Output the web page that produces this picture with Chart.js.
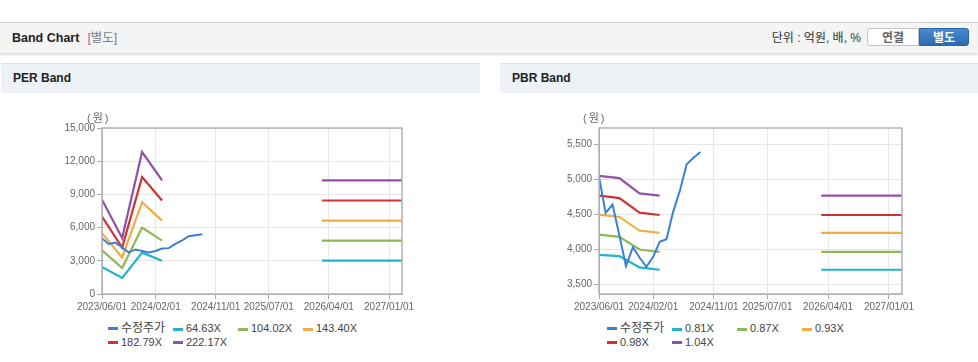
<!DOCTYPE html>
<html lang="ko">
<head>
<meta charset="utf-8">
<title>Band Chart</title>
<script src="https://cdn.jsdelivr.net/npm/chart.js@4.4.1/dist/chart.umd.min.js"></script>
<style>
    body { margin: 0; width: 978px; height: 362px; overflow: hidden; background: #fff;
           font-family: "Liberation Sans", Arial, "Noto Sans CJK KR", sans-serif; color: #222; position: relative; }
    .topbar { position: absolute; left: 0; top: 22px; width: 978px; height: 30px; background: #f4f4f4;
              border-top: 1px solid #cfcfcf; box-shadow: 0 2px 2px rgba(0,0,0,0.13); }
    .topbar .title { position: absolute; left: 12px; top: 0; line-height: 30px; font-size: 12.5px; font-weight: bold; }
    .topbar .title span { font-weight: normal; color: #7a7f88; margin-left: 8px; }
    .unit { position: absolute; right: 117px; top: 0; line-height: 30px; font-size: 12px; color: #333; }
    .btn { position: absolute; top: 5px; height: 18px; line-height: 18px; font-size: 12px; font-weight: bold; text-align: center; box-sizing: border-box; }
    .btn.off { left: 867px; width: 52px; background: #fff; color: #666; border: 1px solid #c4c4c4; border-radius: 3px 0 0 3px; }
    .btn.on { left: 919px; width: 50px; background: linear-gradient(#4b8bd1, #2b69ad); color: #fff; border: 1px solid #2d66a6; border-radius: 0 3px 3px 0; }
    .panel-head { position: absolute; top: 63px; height: 29px; background: #eef1f6; border-top: 1px solid #dcdfe5; }
    .panel-head b { position: absolute; left: 12px; line-height: 29px; font-size: 12px; }
    .box { position: absolute; top: 100px; height: 218px; }
    .unit-label { position: absolute; top: 109px; font-size: 11px; color: #666; letter-spacing: 2px; }
    .legend { position: absolute; top: 322px; width: 270px; font-size: 11px; color: #444; }
    .legend .item { display: inline-block; width: 65px; height: 13.5px; line-height: 13.5px; white-space: nowrap; vertical-align: top; }
    .legend .item i { display: inline-block; width: 10px; height: 3px; margin-right: 3px; vertical-align: middle; }
    .legend .item.kr { font-size: 12px; }
</style>
</head>
<body>
<div class="topbar">
    <div class="title">Band Chart<span>[별도]</span></div>
    <div class="unit">단위 : 억원, 배, %</div>
    <div class="btn off">연결</div>
    <div class="btn on">별도</div>
</div>

<div class="panel-head" style="left:1px;width:479px"><b>PER Band</b></div>
<div class="panel-head" style="left:500px;width:478px"><b>PBR Band</b></div>

<div class="box" style="left:0;width:480px"><canvas id="perChart"></canvas></div>
<div class="box" style="left:500px;width:478px"><canvas id="pbrChart"></canvas></div>
<div class="unit-label" style="left:87px">(원)</div>
<div class="unit-label" style="left:583px">(원)</div>
<div class="legend" id="perLegend" style="left:108px"></div>
<div class="legend" id="pbrLegend" style="left:607px"></div>

<script>
// 날짜 / 눈금
const xTickLabels = ['2023/06/01', '2024/02/01', '2024/11/01', '2025/07/01', '2026/04/01', '2027/01/01'];
const xStart = '2023/06/01';
const xEnd = '2027/03/01';

// 수정주가 (월별)
const priceDates = ['2023/06/01', '2023/07/01', '2023/08/01', '2023/09/01', '2023/10/01', '2023/11/01', '2023/11/15',
    '2023/12/01', '2024/01/01', '2024/02/01', '2024/03/01', '2024/04/01', '2024/05/01', '2024/06/01',
    '2024/07/01', '2024/08/01', '2024/09/01'];
const priceValues = [5040, 4520, 4640, 4200, 3757, 4025, 3962, 3880, 3748, 3891, 4106, 4144, 4535, 4846, 5218, 5310, 5394];

// 밴드 (분기별 + 미래 구간)
const bandDates = ['2023/06/01', '2023/09/01', '2023/12/01', '2024/03/01'];
const futureDates = ['2026/03/01', '2027/03/01'];

const perLabels = ['64.63X', '104.02X', '143.40X', '182.79X', '222.17X'];
const per1 = [2450, 1450, 3740, 3010];
const per2 = [3950, 2350, 6000, 4820];
const per3 = [5500, 3300, 8300, 6630];
const per4 = [7000, 4200, 10570, 8450];
const per5 = [8520, 5050, 12830, 10270];
const perFuture = [3010, 4820, 6630, 8450, 10270];
const perTicks = [0, 3000, 6000, 9000, 12000, 15000];

const pbrLabels = ['0.81X', '0.87X', '0.93X', '0.98X', '1.04X'];
const pbr1 = [3919, 3900, 3738, 3705];
const pbr2 = [4210, 4176, 3995, 3962];
const pbr3 = [4495, 4462, 4267, 4233];
const pbr4 = [4767, 4733, 4524, 4490];
const pbr5 = [5052, 5019, 4800, 4767];
const pbrFuture = [3705, 3962, 4233, 4490, 4767];
const pbrTicks = [3500, 4000, 4500, 5000, 5500];

const priceColor = '#3c7fd6';
const bandColors = ['#22b2c9', '#8fb755', '#f2ad42', '#cc3333', '#9152a5'];

document.addEventListener("DOMContentLoaded", function () {
    Chart.defaults.font.family = '"Liberation Sans", Arial, "Noto Sans CJK KR", sans-serif';
    Chart.defaults.color = '#666';

    const base = Date.UTC(2023, 5, 1);
    function toDay(s) {
        const p = s.split('/').map(Number);
        return (Date.UTC(p[0], p[1] - 1, p[2]) - base) / 86400000;
    }
    function dayLabel(v) {
        const d = new Date(base + v * 86400000);
        const mm = String(d.getUTCMonth() + 1).padStart(2, '0');
        const dd = String(d.getUTCDate()).padStart(2, '0');
        return d.getUTCFullYear() + '/' + mm + '/' + dd;
    }

    // 과거 분기 + 공백 + 미래 구간을 하나의 데이터셋으로
    function bandData(values, future) {
        const pts = bandDates.map((d, i) => ({ x: toDay(d), y: values[i] }));
        pts.push({ x: toDay('2025/01/01'), y: null });
        futureDates.forEach(d => pts.push({ x: toDay(d), y: future }));
        return pts;
    }

    // 플롯 영역 테두리
    const frame = {
        id: 'frame',
        afterDraw(chart) {
            const a = chart.chartArea, ctx = chart.ctx;
            ctx.save();
            ctx.strokeStyle = '#b3b3b3';
            ctx.lineWidth = 1.5;
            ctx.strokeRect(a.left, a.top, a.right - a.left, a.bottom - a.top);
            ctx.restore();
        }
    };

    function makeChart(id, legendId, bands, labels, future, yMin, yMax, yTicks, yWidth, padRight) {
        const datasets = [{
            label: '수정주가',
            data: priceDates.map((d, i) => ({ x: toDay(d), y: priceValues[i] })),
            borderColor: priceColor,
            borderWidth: 2
        }];
        bands.forEach((b, i) => {
            datasets.push({
                label: labels[i],
                data: bandData(b, future[i]),
                borderColor: bandColors[i],
                borderWidth: 2.2
            });
        });

        const chart = new Chart(document.getElementById(id), {
            type: 'line',
            data: { datasets: datasets },
            options: {
                responsive: true,
                maintainAspectRatio: false,
                animation: false,
                devicePixelRatio: 1,
                layout: { padding: { top: 28, right: padRight, left: 0, bottom: 0 } },
                elements: { point: { radius: 0 }, line: { tension: 0 } },
                plugins: { legend: { display: false }, tooltip: { enabled: false } },
                scales: {
                    x: {
                        type: 'linear',
                        min: toDay(xStart),
                        max: toDay(xEnd),
                        afterBuildTicks: s => { s.ticks = xTickLabels.map(t => ({ value: toDay(t) })); },
                        afterFit: s => { s.height = 24; },
                        ticks: { callback: v => dayLabel(v), autoSkip: false, maxRotation: 0, padding: 2,
                                 font: { size: 10 }, color: '#666' },
                        grid: { color: '#e8e8e8', tickColor: '#aaa', tickLength: 5 },
                        border: { color: '#b3b3b3' }
                    },
                    y: {
                        min: yMin,
                        max: yMax,
                        afterBuildTicks: s => { s.ticks = yTicks.map(v => ({ value: v })); },
                        afterFit: s => { s.width = yWidth; },
                        ticks: { callback: v => v.toLocaleString('en-US'), padding: 2,
                                 font: { size: 10 }, color: '#666' },
                        grid: { color: '#e8e8e8', tickColor: '#aaa', tickLength: 5 },
                        border: { color: '#b3b3b3' }
                    }
                }
            },
            plugins: [frame]
        });

        // 범례 (HTML)
        const legend = document.getElementById(legendId);
        chart.data.datasets.forEach((ds, i) => {
            const item = document.createElement('span');
            item.className = 'item' + (i === 0 ? ' kr' : '');
            item.innerHTML = '<i style="background:' + ds.borderColor + '"></i>' + ds.label;
            legend.appendChild(item);
            if (i === 3) legend.appendChild(document.createElement('br'));
        });
        return chart;
    }

    makeChart('perChart', 'perLegend', [per1, per2, per3, per4, per5], perLabels, perFuture,
        0, 15000, perTicks, 102, 78);
    makeChart('pbrChart', 'pbrLegend', [pbr1, pbr2, pbr3, pbr4, pbr5], pbrLabels, pbrFuture,
        3357, 5738, pbrTicks, 99, 76);
});
</script>
</body>
</html>
